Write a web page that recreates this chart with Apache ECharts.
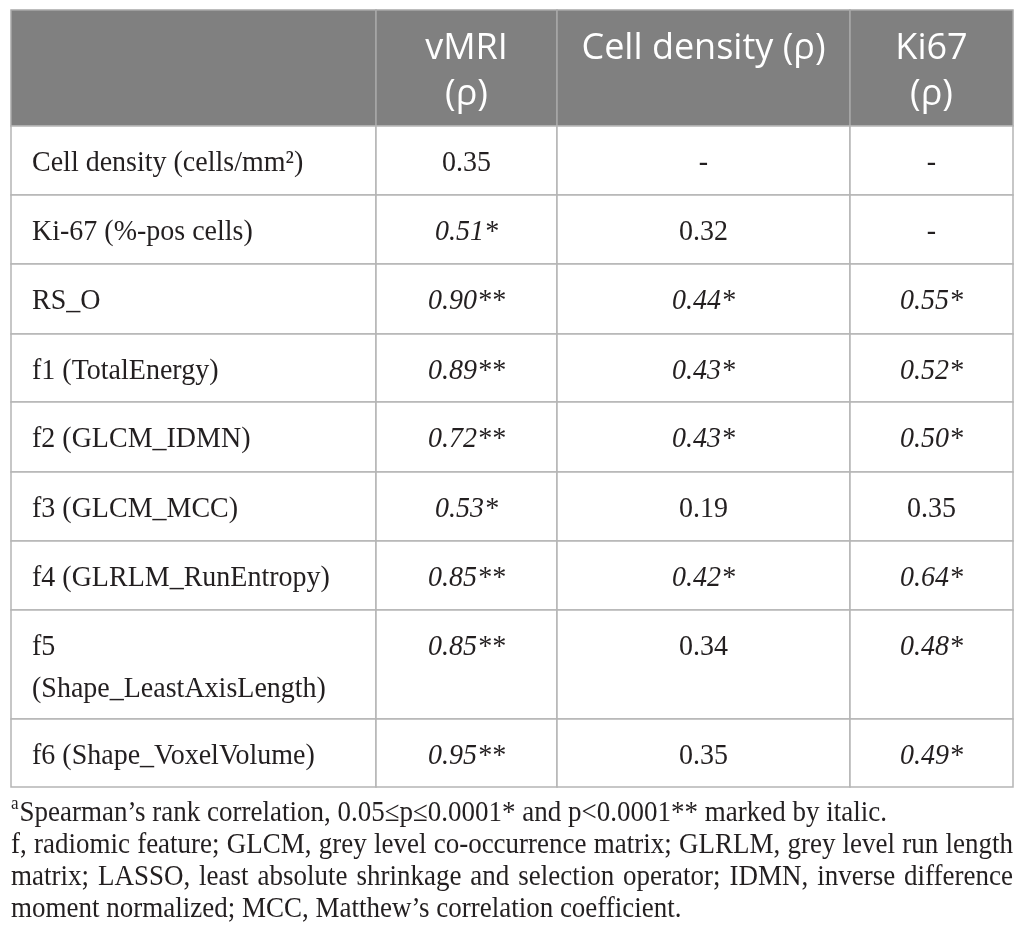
<!DOCTYPE html>
<html>
<head>
<meta charset="utf-8">
<script src="https://cdn.jsdelivr.net/npm/echarts@6/dist/echarts.min.js"></script>
<style>
  html, body { margin: 0; padding: 0; background: #fff; }
  #main { width: 1026px; height: 944px; }
</style>
</head>
<body>
<div id="main"></div>
<script>
// table content
const columns = ['', 'vMRI\n(ρ)', 'Cell density (ρ)', 'Ki67\n(ρ)'];
const rowLabels = ['Cell density (cells/mm²)', 'Ki-67 (%-pos cells)', 'RS_O', 'f1 (TotalEnergy)', 'f2 (GLCM_IDMN)',
    'f3 (GLCM_MCC)', 'f4 (GLRLM_RunEntropy)', 'f5\n(Shape_LeastAxisLength)', 'f6 (Shape_VoxelVolume)'];
const vmri = [0.35, 0.51, 0.90, 0.89, 0.72, 0.53, 0.85, 0.85, 0.95];
const vmriSig = [0, 1, 2, 2, 2, 1, 2, 2, 2];
const cellDensity = [null, 0.32, 0.44, 0.43, 0.43, 0.19, 0.42, 0.34, 0.35];
const cellDensitySig = [0, 0, 1, 1, 1, 0, 1, 0, 0];
const ki67 = [null, null, 0.55, 0.52, 0.50, 0.35, 0.64, 0.48, 0.49];
const ki67Sig = [0, 0, 1, 1, 1, 0, 1, 1, 1];

const noteLines = [
    'Spearman’s rank correlation, 0.05≤p≤0.0001* and p<0.0001** marked by italic.',
    'f, radiomic feature; GLCM, grey level co-occurrence matrix; GLRLM, grey level run length',
    'matrix; LASSO, least absolute shrinkage and selection operator; IDMN, inverse difference',
    'moment normalized; MCC, Matthew’s correlation coefficient.'
];
const noteJustify = [false, true, true, false];

// layout (table units = px inside the grid)
const colEdges = [0, 365, 546, 839, 1002];
const rowEdges = [0, 116, 185, 254, 324, 392, 462, 531, 600, 709, 777];

const serif = '"Liberation Serif", "DejaVu Serif", serif';
const sans = '"Open Sans", "Noto Sans", sans-serif';
const textColor = '#231f20';
const lineColor = '#b5b5b5';
const tallY = 1.06; // source serif is a little taller than Liberation Serif

function fmt(v, sig) {
    if (v === null) return '-';
    return v.toFixed(2) + '*'.repeat(sig);
}

let cells = [];
for (let c = 0; c < columns.length; c++) {
    cells.push({ value: [c, 0], text: columns[c], header: true });
}
const valueCols = [[vmri, vmriSig], [cellDensity, cellDensitySig], [ki67, ki67Sig]];
for (let i = 0; i < rowLabels.length; i++) {
    cells.push({ value: [0, i + 1], text: rowLabels[i], left: true });
    for (let k = 0; k < valueCols.length; k++) {
        const v = valueCols[k][0][i], s = valueCols[k][1][i];
        cells.push({ value: [k + 1, i + 1], text: fmt(v, s), italic: s > 0 });
    }
}

function renderCell(params, api) {
    const c = api.value(0), r = api.value(1);
    const cell = cells[params.dataIndex];
    const p0 = api.coord([colEdges[c], rowEdges[r]]);
    const p1 = api.coord([colEdges[c + 1], rowEdges[r + 1]]);
    const x = cell.left ? p0[0] + 21 : (p0[0] + p1[0]) / 2;
    const align = cell.left ? 'left' : 'center';
    let textEl;
    if (cell.header) {
        textEl = {
            type: 'text',
            style: {
                text: cell.text, x: x, y: p0[1] + 16,
                fill: '#fff', font: '36px ' + sans, lineHeight: 46,
                align: align, textAlign: align, verticalAlign: 'top', textVerticalAlign: 'top'
            }
        };
    } else {
        // element sits on the centre of the first line
        textEl = {
            type: 'text',
            x: x, y: p0[1] + 37,
            scaleY: tallY,
            style: {
                text: cell.text, x: 0, y: -20,
                fill: textColor, font: (cell.italic ? 'italic ' : '') + '28px ' + serif, lineHeight: 40,
                align: align, textAlign: align, verticalAlign: 'top', textVerticalAlign: 'top'
            }
        };
    }
    return {
        type: 'group',
        children: [
            {
                type: 'rect',
                shape: { x: p0[0], y: p0[1], width: p1[0] - p0[0], height: p1[1] - p0[1] },
                style: { fill: cell.header ? '#808080' : '#fff', stroke: cell.header ? '#a8a8a8' : lineColor, lineWidth: 1.5 }
            },
            textEl
        ]
    };
}

// footnote, justified like the source
const noteFont = '27px ' + serif;
const supFont = '17px ' + serif;
const ctx = document.createElement('canvas').getContext('2d');
function measure(s, font) {
    ctx.font = font;
    return ctx.measureText(s).width;
}
function noteText(s, x, y, font) {
    return {
        type: 'text', x: x, y: y, scaleY: tallY,
        style: { text: s, x: 0, y: 0, font: font, fill: textColor, verticalAlign: 'middle', textVerticalAlign: 'middle' }
    };
}
let graphics = [];
const noteLeft = 11, noteWidth = 1002, noteTop = 813, noteStep = 32;
noteLines.forEach(function (line, li) {
    const y = noteTop + li * noteStep;
    let x = noteLeft;
    if (li === 0) {
        graphics.push(noteText('a', x, y - 9, supFont));
        x += measure('a', supFont) + 1;
    }
    if (!noteJustify[li]) {
        graphics.push(noteText(line, x, y, noteFont));
        return;
    }
    const words = line.split(' ');
    const widths = words.map(function (w) { return measure(w, noteFont); });
    const total = widths.reduce(function (a, b) { return a + b; }, 0);
    const gap = (noteWidth - total) / (words.length - 1);
    words.forEach(function (w, wi) {
        graphics.push(noteText(w, x, y, noteFont));
        x += widths[wi] + gap;
    });
});

const chartDom = document.getElementById('main');
let myChart = echarts.init(chartDom);
let option = {
    animation: false,
    backgroundColor: '#fff',
    grid: { left: 11, top: 10, width: 1002, height: 777 },
    xAxis: { type: 'value', min: 0, max: 1002, show: false },
    yAxis: { type: 'value', min: 0, max: 777, inverse: true, show: false },
    series: [
        {
            type: 'custom',
            renderItem: renderCell,
            data: cells,
            clip: false,
            silent: true
        }
    ],
    graphic: graphics
};
option && myChart.setOption(option);
</script>
</body>
</html>
